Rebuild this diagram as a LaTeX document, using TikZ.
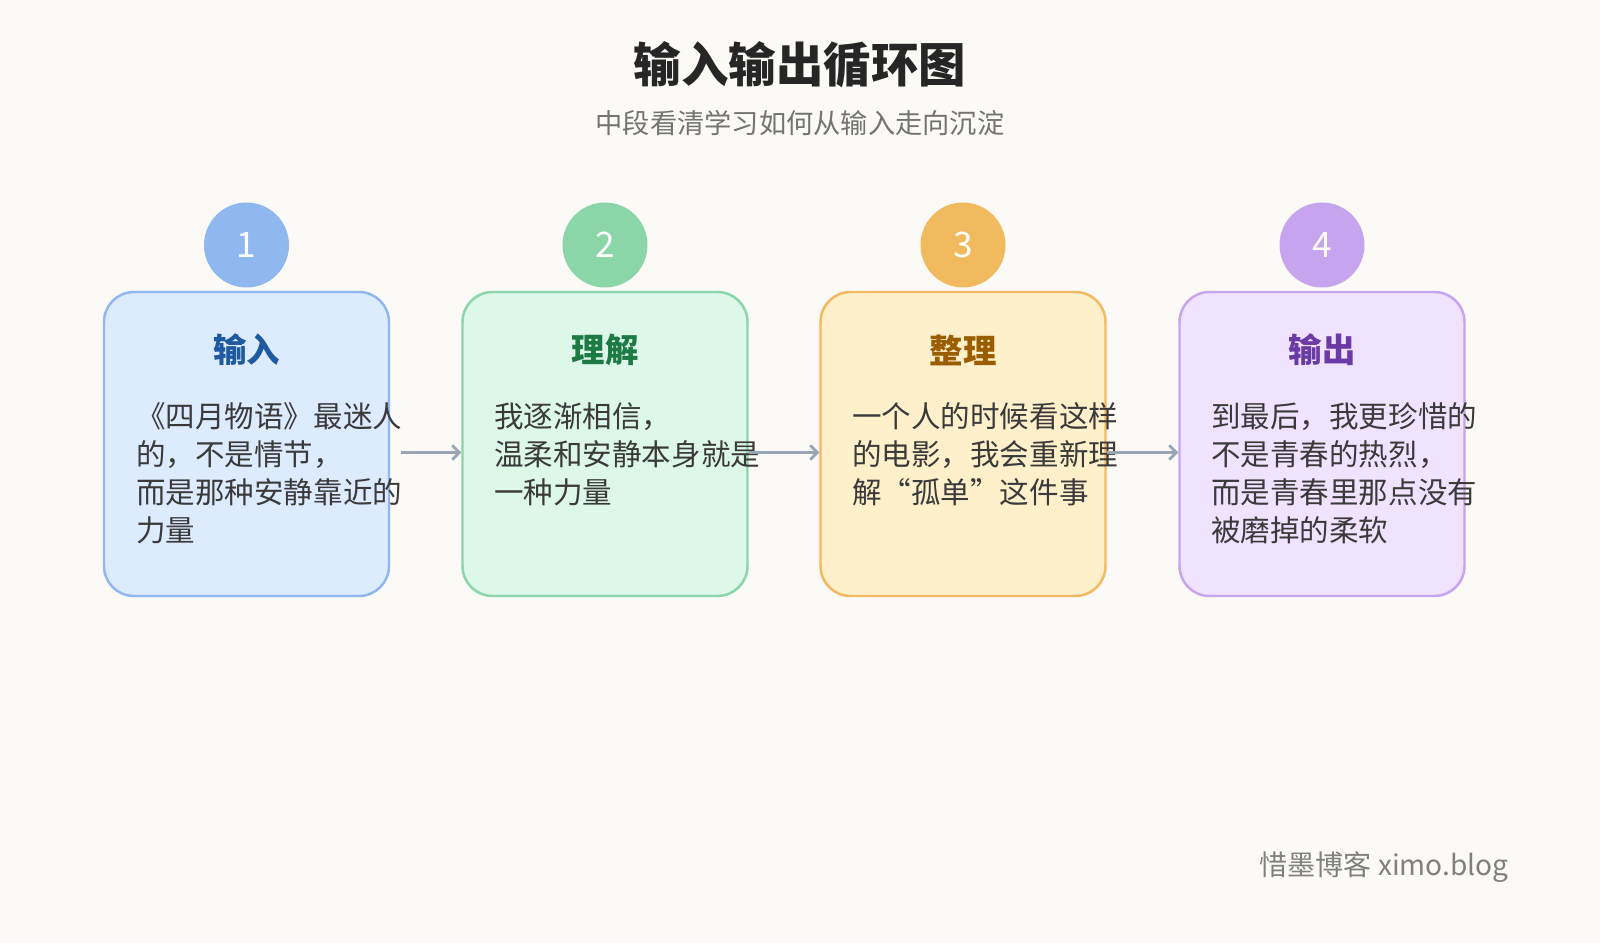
\documentclass[tikz,border=0pt]{standalone}
\usepackage{fontspec}
\setmainfont{Noto Sans CJK SC}
\usetikzlibrary{arrows.meta,positioning}
\definecolor{bg}{HTML}{FBFAF6}
\definecolor{bluec}{HTML}{8FB8F0}\definecolor{bluef}{HTML}{DDEBFF}\definecolor{bluet}{HTML}{1F5AA0}
\definecolor{greenc}{HTML}{8AD6A8}\definecolor{greenf}{HTML}{DDF7E8}\definecolor{greent}{HTML}{1E7A45}
\definecolor{orangec}{HTML}{F2BA5E}\definecolor{orangef}{HTML}{FFF0CC}\definecolor{oranget}{HTML}{9A5E00}
\definecolor{purplec}{HTML}{C6A4EE}\definecolor{purplef}{HTML}{F0E3FF}\definecolor{purplet}{HTML}{6B3BA5}
\definecolor{arrowc}{HTML}{9AA5B4}
\definecolor{bodyc}{HTML}{3A3A3A}
\tikzset{
	stage/.style={
		shape=rectangle,
		minimum width=5.7cm,
		minimum height=6.08cm,
		rounded corners=0.6cm,
		line width=1.4pt,
		draw
	},
	badge/.style={
		shape=circle,
		minimum size=1.7cm,
		inner sep=0pt,
		text=white,
		font=\fontsize{20}{20}\selectfont
	},
	stagetitle/.style={
		font=\fontsize{19}{19}\selectfont\bfseries
	},
	stagebody/.style={
		anchor=north west,
		align=left,
		inner sep=0pt,
		text=bodyc,
		font=\fontsize{16.8}{21.6}\selectfont
	},
	flow/.style={-{Straight Barb[length=4pt]}, line width=1.6pt, draw=arrowc},
}

\begin{document}
\begin{tikzpicture}
\fill[bg] (0,0) rectangle (32,-18.86);
\useasboundingbox (0,0) rectangle (32,-18.86);

\node[font=\fontsize{27}{27}\selectfont\bfseries, text=black!85] (title) at (16,-1.3) {输入输出循环图};
\node[font=\fontsize{15.5}{15.5}\selectfont, text=black!55] (subtitle) at (16,-2.46) {中段看清学习如何从输入走向沉淀};

\node[stage, draw=bluec, fill=bluef] (in) at (4.93,-8.88) {};
\node[stage, draw=greenc, fill=greenf] (un) at (12.1,-8.88) {};
\node[stage, draw=orangec, fill=orangef] (or) at (19.26,-8.88) {};
\node[stage, draw=purplec, fill=purplef] (out) at (26.44,-8.88) {};

\node[badge, fill=bluec] (n1) at (4.93,-4.9) {1};
\node[badge, fill=greenc] (n2) at (12.1,-4.9) {2};
\node[badge, fill=orangec] (n3) at (19.26,-4.9) {3};
\node[badge, fill=purplec] (n4) at (26.44,-4.9) {4};

\node[stagetitle, text=bluet] (t1) at (4.93,-7.0) {输入};
\node[stagetitle, text=greent] (t2) at (12.1,-7.0) {理解};
\node[stagetitle, text=oranget] (t3) at (19.26,-7.0) {整理};
\node[stagetitle, text=purplet] (t4) at (26.44,-7.0) {输出};

\node[stagebody] (b1) at (2.72,-8.05) {《四月物语》最迷人\\的，不是情节，\\而是那种安静靠近的\\力量};
\node[stagebody] (b2) at (9.88,-8.05) {我逐渐相信，\\温柔和安静本身就是\\一种力量};
\node[stagebody] (b3) at (17.04,-8.05) {一个人的时候看这样\\的电影，我会重新理\\解“孤单”这件事};
\node[stagebody] (b4) at (24.22,-8.05) {到最后，我更珍惜的\\不是青春的热烈，\\而是青春里那点没有\\被磨掉的柔软};

\draw[flow] ([xshift=0.22cm,yshift=-0.17cm]in.east) -- ([yshift=-0.17cm]un.west);
\draw[flow] ([yshift=-0.17cm]un.east) -- ([yshift=-0.17cm]or.west);
\draw[flow] ([yshift=-0.17cm]or.east) -- ([yshift=-0.17cm]out.west);

\node[anchor=east, font=\fontsize{16}{16}\selectfont, text=black!50] (foot) at (30.3,-17.34) {惜墨博客 ximo.blog};
\end{tikzpicture}
\end{document}
